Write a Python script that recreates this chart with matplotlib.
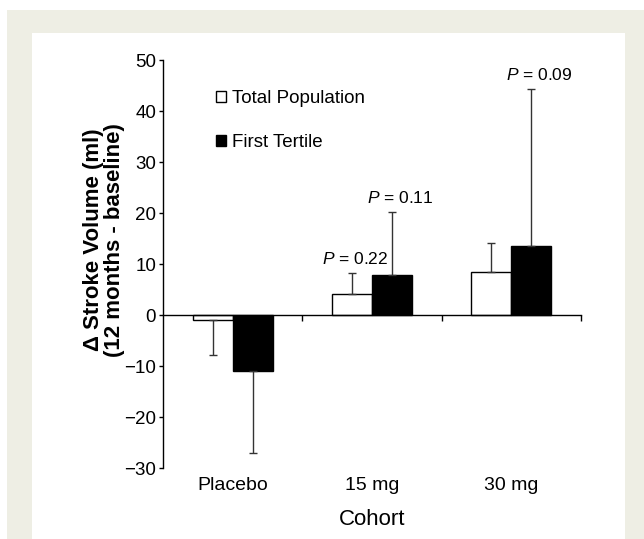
import numpy as np
import matplotlib.pyplot as plt
from matplotlib.patches import Rectangle

plt.rcParams['font.family'] = ['Liberation Sans', 'DejaVu Sans']
plt.rcParams['mathtext.fontset'] = 'custom'
plt.rcParams['mathtext.it'] = 'Liberation Sans:italic'
plt.rcParams['mathtext.rm'] = 'Liberation Sans'

# data
cohorts = ['Placebo', '15 mg', '30 mg']
total_mean = [-1.0, 4.1, 8.4]
total_err = [6.8, 4.1, 5.7]
tertile_mean = [-11.0, 7.8, 13.5]
tertile_err = [16.0, 12.4, 30.8]
p_labels = [None, '0.22', '0.11', '0.09']

fig = plt.figure(figsize=(6.44, 5.39), dpi=100)
fig.patch.set_facecolor('white')
# beige frame with white panel
fig.patches.append(Rectangle((7 / 644, 0), 1, 1 - 10 / 539, transform=fig.transFigure,
                             facecolor='#eeeee4', edgecolor='none', zorder=-2))
fig.patches.append(Rectangle((32 / 644, 0), (625 - 32) / 644, 1 - 33 / 539, transform=fig.transFigure,
                             facecolor='white', edgecolor='none', zorder=-1))

ax = fig.add_axes([163 / 644, 1 - 468 / 539, (581 - 163) / 644, 408 / 539])
ax.patch.set_alpha(0)

x = np.arange(len(cohorts))
w = 0.287


def one_sided(mean, err):
    lo = [e if m < 0 else 0 for m, e in zip(mean, err)]
    hi = [e if m >= 0 else 0 for m, e in zip(mean, err)]
    return [lo, hi]


ekw = dict(ecolor='#333333', elinewidth=1.0, capsize=3, capthick=1.0)
ax.bar(x - w / 2, total_mean, w, color='white', edgecolor='black', linewidth=1.0,
       yerr=one_sided(total_mean, total_err), error_kw=ekw, label='Total Population', zorder=2)
ax.bar(x + w / 2, tertile_mean, w, color='black', edgecolor='black', linewidth=1.0,
       yerr=one_sided(tertile_mean, tertile_err), error_kw=ekw, label='First Tertile', zorder=2)

# P value annotations
ptxt = dict(ha='center', va='bottom', fontsize=12.5)
ax.text(1 - w / 2 + 0.02, total_mean[1] + total_err[1] + 1.2, r'$P$ = ' + p_labels[1], **ptxt)
ax.text(1 + w / 2 + 0.06, tertile_mean[1] + tertile_err[1] + 1.2, r'$P$ = ' + p_labels[2], **ptxt)
ax.text(2 + w / 2 + 0.06, tertile_mean[2] + tertile_err[2] + 1.2, r'$P$ = ' + p_labels[3], **ptxt)

ax.set_xlim(-0.5, 2.5)
ax.set_ylim(-30, 50)
ax.set_yticks(np.arange(-30, 51, 10))
ax.tick_params(axis='y', direction='out', length=3, width=1, labelsize=13.5, pad=2)
ax.set_xticks([0.5, 1.5, 2.5])
ax.set_xticklabels([])
ax.tick_params(axis='x', direction='out', length=4, width=1)
for s in ['top', 'right']:
    ax.spines[s].set_visible(False)
ax.spines['bottom'].set_position(('data', 0))
ax.spines['left'].set_linewidth(1)
ax.spines['bottom'].set_linewidth(1)

for i, c in enumerate(cohorts):
    ax.text(i, -0.042, c, transform=ax.get_xaxis_transform(), ha='center', va='center', fontsize=14)
ax.text(0.5, -0.127, 'Cohort', transform=ax.transAxes, ha='center', va='center', fontsize=16)

fig.text(104 / 644, 1 - 240 / 539, 'Δ Stroke Volume (ml)\n(12 months - baseline)', rotation=90,
         ha='center', va='center', fontsize=16, fontweight='bold', multialignment='center',
         linespacing=0.95)

ax.legend(loc='upper left', bbox_to_anchor=(0.11, 0.945), frameon=False, fontsize=13.5,
          handlelength=0.5, handleheight=0.5, handletextpad=0.35, labelspacing=1.45, borderaxespad=0)

fig.savefig('out.png', dpi=100)
